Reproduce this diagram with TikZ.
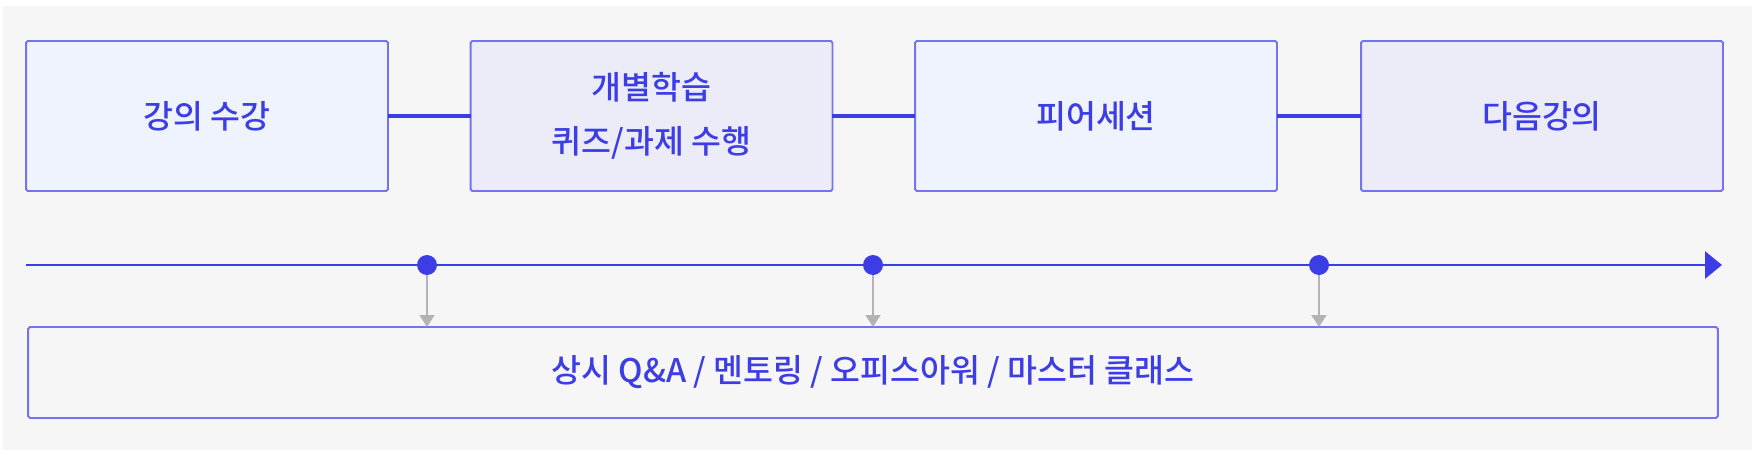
\documentclass[tikz,border=0pt]{standalone}
\usepackage{fontspec}
\setmainfont{Noto Sans CJK KR}[UprightFont=* Medium]
\usetikzlibrary{arrows.meta}
\definecolor{panelgray}{HTML}{F6F6F6}
\definecolor{edgeblue}{HTML}{7474F2}
\definecolor{inkblue}{HTML}{3D3DE6}
\definecolor{fillblue}{HTML}{EFF3FD}
\definecolor{filllav}{HTML}{ECECF9}
\definecolor{dropgray}{HTML}{B3B3B3}
\newcommand{\stagefont}{\fontsize{18.5}{30.5}\selectfont\lineskiplimit=-20pt\relax}

\begin{document}
\begin{tikzpicture}[x=0.02cm, y=-0.02cm,
    stagebox/.style={draw=edgeblue, line width=1.1pt, rounded corners=1pt,
      minimum width=7.24cm, minimum height=3cm, inner sep=0pt, outer sep=0pt,
      text=inkblue, align=center, font=\stagefont},
    link/.style={inkblue, line width=2.6pt},
    timeline/.style={inkblue, line width=1.7pt},
    dot/.style={circle, fill=inkblue, minimum size=0.4cm, inner sep=0pt},
    drop/.style={dropgray, line width=1pt, -{Triangle[length=0.24cm, width=0.3cm]}}]
  % canvas and panel
  \fill[white] (0,0) rectangle (1761,460);
  \fill[panelgray] (3,6) rectangle (1752,450);
  % stages
  \node[stagebox, fill=fillblue] (lecture) at (207,116) {강의 수강};
  \node[stagebox, fill=filllav] (study) at (651.5,116) {개별학습\\퀴즈/과제 수행};
  \node[stagebox, fill=fillblue] (peer) at (1096,116) {피어세션};
  \node[stagebox, fill=filllav] (next) at (1542,116) {다음강의};
  \draw[link] (lecture) -- (study);
  \draw[link] (study) -- (peer);
  \draw[link] (peer) -- (next);
  % timeline
  \coordinate (tstart) at (26,265);
  \coordinate (tend) at (1722,265);
  \draw[timeline, -{Triangle[length=0.34cm, width=0.54cm]}] (tstart) -- (tend);
  \node[dot] (d1) at (427,265) {};
  \node[dot] (d2) at (873,265) {};
  \node[dot] (d3) at (1319,265) {};
  % support
  \node[stagebox, fill=panelgray, minimum width=33.8cm, minimum height=1.82cm] (support) at (873,372.5) {상시 Q\&A / 멘토링 / 오피스아워 / 마스터 클래스};
  \draw[drop] (d1) -- (d1 |- support.north);
  \draw[drop] (d2) -- (d2 |- support.north);
  \draw[drop] (d3) -- (d3 |- support.north);
\end{tikzpicture}
\end{document}
